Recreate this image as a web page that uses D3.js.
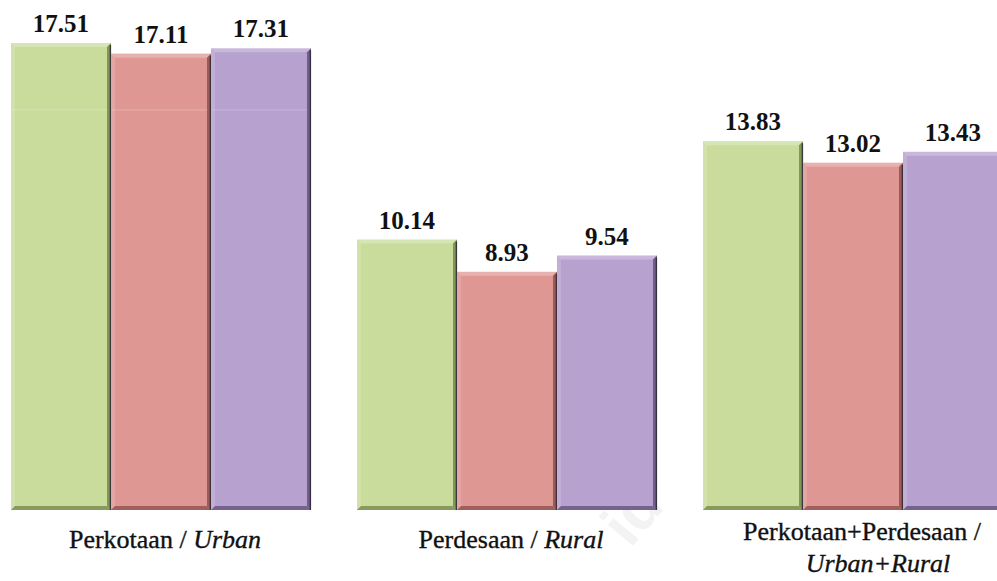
<!DOCTYPE html>
<html>
<head>
<meta charset="utf-8">
<script src="https://cdn.jsdelivr.net/npm/d3@7"></script>
<style>
  html, body { margin: 0; padding: 0; background: #ffffff; }
  svg { display: block; }
</style>
</head>
<body>
<svg id="chart" width="997" height="581"></svg>
<script>
// Area categories (Indonesian / English)
const categories = ["Perkotaan / Urban", "Perdesaan / Rural", "Perkotaan+Perdesaan / Urban+Rural"];
const series = ["s1", "s2", "s3"];
const values1 = [17.51, 10.14, 13.83];
const values2 = [17.11, 8.93, 13.02];
const values3 = [17.31, 9.54, 13.43];
const labelLines = [
  [[{t: "Perkotaan / ", i: false}, {t: "Urban", i: true}]],
  [[{t: "Perdesaan / ", i: false}, {t: "Rural", i: true}]],
  [[{t: "Perkotaan+Perdesaan / ", i: false}], [{t: "Urban+Rural", i: true}]]
];

const colors = { s1: "#c9dc9b", s2: "#df9794", s3: "#b7a1cf" };
const darks  = { s1: "#6f8548", s2: "#8a4c4a", s3: "#5f4d78" };

const svg = d3.select("#chart");
const baseY = 510;

const x0 = d3.scaleBand().domain(categories).range([11, 1003]).paddingInner(0.133).paddingOuter(0);
const x1 = d3.scaleBand().domain(series).range([0, x0.bandwidth()]).padding(0);
const y = d3.scaleLinear().domain([0, 17.51]).range([baseY, 43]);

const rows = categories.map((c, i) => ({
  cat: c,
  idx: i,
  bars: [
    { key: "s1", v: values1[i] },
    { key: "s2", v: values2[i] },
    { key: "s3", v: values3[i] }
  ]
}));

// faint watermark
svg.append("text")
  .attr("transform", "translate(648,528) rotate(-50)")
  .attr("text-anchor", "middle")
  .attr("font-family", "Liberation Sans, Arial, sans-serif")
  .attr("font-weight", "bold")
  .attr("font-size", 62)
  .attr("fill", "#f3f3f3")
  .text("id");

const groups = svg.selectAll("g.grp").data(rows).join("g")
  .attr("class", "grp")
  .attr("transform", d => `translate(${x0(d.cat)},0)`);

const bw = x1.bandwidth();
const bev = 4;

const bars = groups.selectAll("g.bar").data(d => d.bars).join("g")
  .attr("class", "bar")
  .attr("transform", d => `translate(${x1(d.key)},0)`);

// main body
bars.append("rect")
  .attr("x", 0).attr("y", d => y(d.v))
  .attr("width", bw).attr("height", d => baseY - y(d.v))
  .attr("fill", d => colors[d.key]);

// top bevel (light)
bars.append("path")
  .attr("d", d => { const t = y(d.v); return `M0,${t}L${bw},${t}L${bw-bev},${t+bev}L${bev},${t+bev}Z`; })
  .attr("fill", "#ffffff").attr("opacity", 0.25);
// left bevel (light)
bars.append("path")
  .attr("d", d => { const t = y(d.v); return `M0,${t}L${bev},${t+bev}L${bev},${baseY-bev}L0,${baseY}Z`; })
  .attr("fill", "#ffffff").attr("opacity", 0.15);
// right bevel (dark)
bars.append("path")
  .attr("d", d => { const t = y(d.v); return `M${bw},${t}L${bw},${baseY}L${bw-bev},${baseY-bev}L${bw-bev},${t+bev}Z`; })
  .attr("fill", d => darks[d.key]).attr("opacity", 0.8);
// bottom bevel (dark)
bars.append("path")
  .attr("d", d => `M0,${baseY}L${bw},${baseY}L${bw-bev},${baseY-bev}L${bev},${baseY-bev}Z`)
  .attr("fill", d => darks[d.key]).attr("opacity", 0.75);
// right shadow line
bars.append("line")
  .attr("x1", bw - 0.6).attr("x2", bw - 0.6)
  .attr("y1", d => y(d.v) + 2).attr("y2", baseY)
  .attr("stroke", "#2e2833").attr("stroke-width", 1.4).attr("opacity", 0.85);

// faint line at 15 showing through tall bars
bars.filter(d => d.v > 15).append("line")
  .attr("x1", 1).attr("x2", bw - bev)
  .attr("y1", y(15)).attr("y2", y(15))
  .attr("stroke", "#ffffff").attr("stroke-width", 1.2).attr("opacity", 0.18);

// value labels
bars.append("text")
  .attr("x", bw / 2)
  .attr("y", d => y(d.v) - 11)
  .attr("text-anchor", "middle")
  .attr("font-family", "Liberation Serif, 'Times New Roman', serif")
  .attr("font-weight", "bold")
  .attr("font-size", 25)
  .attr("fill", "#111")
  .text(d => d.v.toFixed(2));

// category labels
const lineGap = 32;
groups.each(function(d) {
  const g = d3.select(this);
  const lines = labelLines[d.idx];
  const firstY = lines.length > 1 ? 540 : 548;
  lines.forEach((parts, li) => {
    const shift = lines.length > 1 ? (li === 0 ? 9 : 25) : 4;
    const t = g.append("text")
      .attr("x", x0.bandwidth() / 2 + shift)
      .attr("y", firstY + li * lineGap)
      .attr("text-anchor", "middle")
      .attr("font-family", "Liberation Serif, 'Times New Roman', serif")
      .attr("font-size", 26)
      .attr("fill", "#111")
      .attr("stroke", "#111").attr("stroke-width", 0.35);
    parts.forEach(p => {
      t.append("tspan").attr("font-style", p.i ? "italic" : "normal").text(p.t);
    });
  });
});
</script>
</body>
</html>
